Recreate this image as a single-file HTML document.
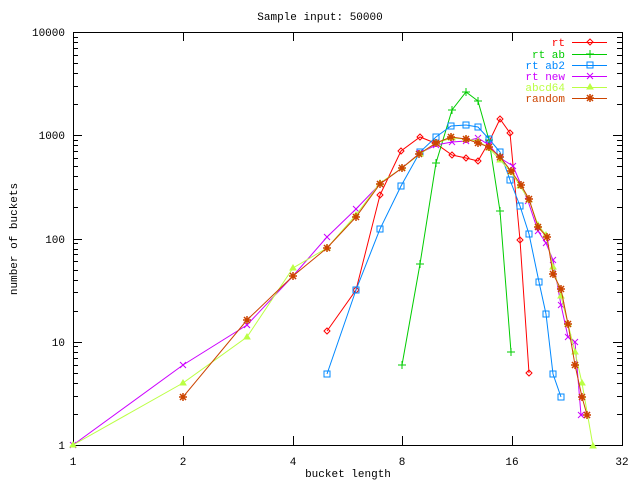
<!DOCTYPE html>
<html><head><meta charset="utf-8"><style>
html,body{margin:0;padding:0;background:#fff;width:640px;height:480px;overflow:hidden}
text{font-family:"Liberation Mono","DejaVu Sans Mono",monospace;font-size:11px}
</style></head><body>
<svg id="s" width="640" height="480" xmlns="http://www.w3.org/2000/svg">
<rect x="0" y="0" width="640" height="480" fill="#fff"/>
<g id="ticks" stroke="#000" stroke-width="1"></g>
<rect x="73.5" y="32.5" width="549" height="413" fill="none" stroke="#000"/>
<text x="320" y="20" text-anchor="middle">Sample input: 50000</text>
<g text-anchor="end">
<text x="65" y="36">10000</text><text x="65" y="139">1000</text><text x="65" y="243">100</text>
<text x="65" y="346">10</text><text x="65" y="449">1</text>
</g>
<g text-anchor="middle">
<text x="73" y="465">1</text><text x="183" y="465">2</text><text x="293" y="465">4</text>
<text x="402" y="465">8</text><text x="512" y="465">16</text><text x="622" y="465">32</text>
<text x="348" y="477">bucket length</text>
</g>
<text transform="translate(17,239) rotate(-90)" text-anchor="middle">number of buckets</text>
<g id="series" fill="none" stroke-width="1"></g>
<g id="legend" text-anchor="end"></g>
</svg>
<script>
var NS="http://www.w3.org/2000/svg";
function el(p,t,a){var e=document.createElementNS(NS,t);for(var k in a)e.setAttribute(k,a[k]);p.appendChild(e);return e;}
var tk=document.getElementById("ticks");
for(var d=0;d<4;d++){var y0=445-d*103.25;for(var m=1;m<10;m++){var y=Math.round(y0-Math.log10(m)*103.25)+.5;var L=m==1?9:5;
el(tk,"line",{x1:73,y1:y,x2:73+L,y2:y});el(tk,"line",{x1:622,y1:y,x2:622-L,y2:y});}}
[73,183,293,402,512,622].forEach(function(x){x+=.5;el(tk,"line",{x1:x,y1:445,x2:x,y2:436});el(tk,"line",{x1:x,y1:32,x2:x,y2:41});});
var S=[
["rt","#f00","d",[[327,331],[356,290],[380,195],[401,151],[420,137],[435,143],[452,155],[466,158],[478,161],[489,142],[500,119],[510,133],[520,240],[529,373]]],
["rt ab","#0c0","+",[[402,365],[420,264],[436,163],[452,110],[466,92],[478,101],[489,140],[500,211],[511,352]]],
["rt ab2","#08f","s",[[327,374],[356,290],[380,229],[401,186],[420,152],[436,137],[451,126],[466,125],[478,127],[489,139],[500,152],[510,180],[520,206],[529,234],[539,282],[546,314],[553,374],[561,397]]],
["rt new","#c0f","x",[[73,445],[183,365],[247,325],[293,276],[327,237],[356,209],[380,184],[402,168],[420,153],[436,145],[452,142],[466,141],[478,138],[489,145],[500,158],[513,166],[528,201],[538,231],[546,243],[553,260],[561,305],[568,337],[575,342],[581,415],[587,415]]],
["abcd64","#bf4","t",[[73,445],[183,383],[247,337],[293,268],[327,248],[356,215],[380,183],[402,168],[420,154],[436,143],[452,138],[466,139],[478,141],[489,148],[500,160],[511,172],[520,186],[529,200],[538,225],[546,235],[553,267],[561,296],[568,324],[575,352],[582,383],[593,446]]],
["random","#c40","*",[[183,397],[247,320],[293,276],[327,248],[356,217],[380,184],[402,168],[419,154],[436,143],[451,137],[466,139],[478,143],[489,147],[500,157],[511,171],[521,185],[529,199],[538,227],[547,237],[553,274],[561,289],[568,324],[575,365],[582,397],[587,415]]]
];
var sg=document.getElementById("series"),lg=document.getElementById("legend");
function mk(g,c,k,x,y){
 if(k=="d")el(g,"path",{d:"M"+(x-3)+","+y+"L"+x+","+(y-3)+"L"+(x+3)+","+y+"L"+x+","+(y+3)+"Z",stroke:c});
 else if(k=="+")el(g,"path",{d:"M"+(x-4)+","+y+"H"+(x+4)+"M"+x+","+(y-4)+"V"+(y+4),stroke:c});
 else if(k=="s")el(g,"rect",{x:x-3,y:y-3,width:6,height:6,stroke:c});
 else if(k=="x")el(g,"path",{d:"M"+(x-3)+","+(y-3)+"L"+(x+3)+","+(y+3)+"M"+(x-3)+","+(y+3)+"L"+(x+3)+","+(y-3),stroke:c});
 else if(k=="t")el(g,"path",{d:"M"+(x-3)+","+(y+2)+"L"+x+","+(y-3)+"L"+(x+3)+","+(y+2)+"Z",stroke:c,fill:c});
 else el(g,"path",{d:"M"+(x-4)+","+y+"H"+(x+4)+"M"+x+","+(y-4)+"V"+(y+4)+"M"+(x-3)+","+(y-3)+"L"+(x+3)+","+(y+3)+"M"+(x-3)+","+(y+3)+"L"+(x+3)+","+(y-3),stroke:c,"stroke-width":1.5});
}
var ly=[42,54,65,76,87,98];
S.forEach(function(s,i){
 var g=el(sg,"g",{});
 el(g,"polyline",{points:s[3].map(function(p){return p.join(",")}).join(" "),stroke:s[1]});
 s[3].forEach(function(p){mk(g,s[1],s[2],p[0],p[1]);});
 var t=el(lg,"text",{x:565,y:ly[i]+4,fill:s[1]});t.textContent=s[0];
 el(g,"line",{x1:572,y1:ly[i]+.5,x2:607,y2:ly[i]+.5,stroke:s[1]});
 mk(g,s[1],s[2],590,ly[i]);
});
</script>
</body></html>
